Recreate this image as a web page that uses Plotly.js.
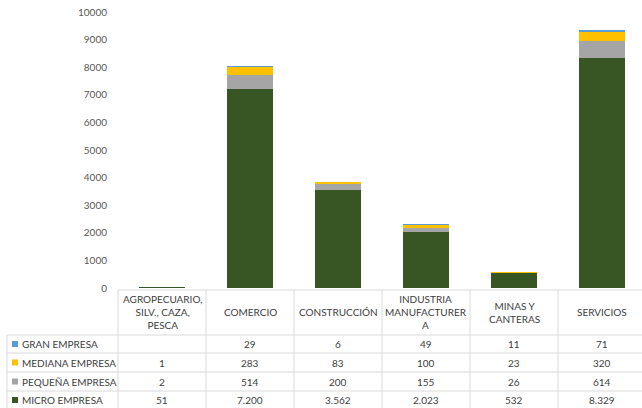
<!DOCTYPE html>
<html>
<head>
<meta charset="utf-8">
<script src="https://cdn.plot.ly/plotly-3.0.1.min.js"></script>
<style>html,body{margin:0;padding:0;background:#fff;}#chart{width:642px;height:408px;}</style>
</head>
<body>
<div id="chart"></div>
<script>
// ---- data ----
const categories = ["AGROPECUARIO, SILV., CAZA, PESCA", "COMERCIO", "CONSTRUCCIÓN", "INDUSTRIA MANUFACTURERA", "MINAS Y CANTERAS", "SERVICIOS"];
const headerLabels = ["AGROPECUARIO,<br>SILV., CAZA,<br>PESCA", "COMERCIO", "CONSTRUCCIÓN", "INDUSTRIA<br>MANUFACTURER<br>A", "MINAS Y<br>CANTERAS", "SERVICIOS"];
const seriesNames = ["MICRO EMPRESA", "PEQUEÑA EMPRESA", "MEDIANA EMPRESA", "GRAN EMPRESA"];
const micro   = [51, 7200, 3562, 2023, 532, 8329];
const pequena = [2, 514, 200, 155, 26, 614];
const mediana = [1, 283, 83, 100, 23, 320];
const gran    = [null, 29, 6, 49, 11, 71];
const yTicks  = [0, 1000, 2000, 3000, 4000, 5000, 6000, 7000, 8000, 9000, 10000];

// ---- styling ----
const colors = ["#375623", "#a5a5a5", "#ffc000", "#5b9bd5"];
const seriesValues = [micro, pequena, mediana, gran];
const W = 642, H = 408;
const px = x => x / W;
const py = y => 1 - y / H;
const FONT = "Lato, 'Open Sans', sans-serif";
const TXT = "#404040";
const GRID = "#d9d9d9";

function fmt(v) {
  if (v === null || v === undefined) return "";
  const s = String(Math.round(v));
  return s.replace(/\B(?=(\d{3})+(?!\d))/g, ".");
}

const traces = seriesValues.map((vals, i) => ({
  type: "bar",
  name: seriesNames[i],
  x: categories,
  y: vals,
  marker: {color: colors[i]},
  hoverinfo: "x+y+name"
}));

// table geometry (pixels)
const colLeft = 118, colW = 88, labelLeft = 7;
const headerTop = 290, rowLines = [335, 353, 372, 391], bottom = 410;
const rowCenters = [344, 362.5, 381.5, 400];
// order of table rows (top to bottom)
const rowOrder = [3, 2, 1, 0];

const shapes = [];
// header top line
shapes.push({type: "line", xref: "paper", yref: "paper", x0: px(colLeft), x1: 1, y0: py(headerTop), y1: py(headerTop), line: {color: GRID, width: 1}});
// row lines
rowLines.forEach(y => shapes.push({type: "line", xref: "paper", yref: "paper", x0: px(labelLeft), x1: 1, y0: py(y), y1: py(y), line: {color: GRID, width: 1}}));
// left border of label column
shapes.push({type: "line", xref: "paper", yref: "paper", x0: px(labelLeft), x1: px(labelLeft), y0: py(rowLines[0]), y1: py(bottom), line: {color: GRID, width: 1}});
// column separators
for (let i = 0; i < categories.length; i++) {
  const x = colLeft + i * colW;
  shapes.push({type: "line", xref: "paper", yref: "paper", x0: px(x), x1: px(x), y0: py(headerTop), y1: py(bottom), line: {color: GRID, width: 1}});
}
// legend keys
rowOrder.forEach((s, r) => {
  const cy = rowCenters[r];
  shapes.push({type: "rect", xref: "paper", yref: "paper", x0: px(12), x1: px(18), y0: py(cy + 3), y1: py(cy - 3), line: {width: 0}, fillcolor: colors[s]});
});

const annotations = [];
// header labels
headerLabels.forEach((t, i) => {
  annotations.push({xref: "x", yref: "paper", x: categories[i], y: py(312), text: t, showarrow: false,
    font: {family: FONT, size: 10, color: TXT}, align: "center", xanchor: "center", yanchor: "middle"});
});
// row labels and values
rowOrder.forEach((s, r) => {
  const cy = rowCenters[r];
  annotations.push({xref: "paper", yref: "paper", x: px(20), y: py(cy), text: seriesNames[s], showarrow: false,
    font: {family: FONT, size: 10, color: TXT}, xanchor: "left", yanchor: "middle"});
  seriesValues[s].forEach((v, i) => {
    annotations.push({xref: "x", yref: "paper", x: categories[i], y: py(cy), text: fmt(v), showarrow: false,
      font: {family: FONT, size: 10, color: TXT}, xanchor: "center", yanchor: "middle"});
  });
});

const layout = {
  width: W, height: H,
  margin: {l: 0, r: 0, t: 0, b: 0},
  paper_bgcolor: "#fff", plot_bgcolor: "#fff",
  barmode: "stack",
  bargap: 0.48,
  showlegend: false,
  font: {family: FONT, size: 10, color: "#595959"},
  xaxis: {
    domain: [px(colLeft), 1],
    range: [-0.5, -0.5 + (W - colLeft) / colW],
    showticklabels: false, showgrid: false, zeroline: false, showline: false, ticks: ""
  },
  yaxis: {
    domain: [py(288), py(12)],
    range: [0, 10000],
    tickvals: yTicks,
    ticktext: yTicks.map(String),
    showgrid: false, zeroline: false, showline: false, ticks: "",
    ticklabelstandoff: 10,
    tickfont: {family: FONT, size: 10, color: "#595959"}
  },
  shapes: shapes,
  annotations: annotations
};

Plotly.newPlot("chart", traces, layout, {displayModeBar: false, staticPlot: true});
</script>
</body>
</html>
